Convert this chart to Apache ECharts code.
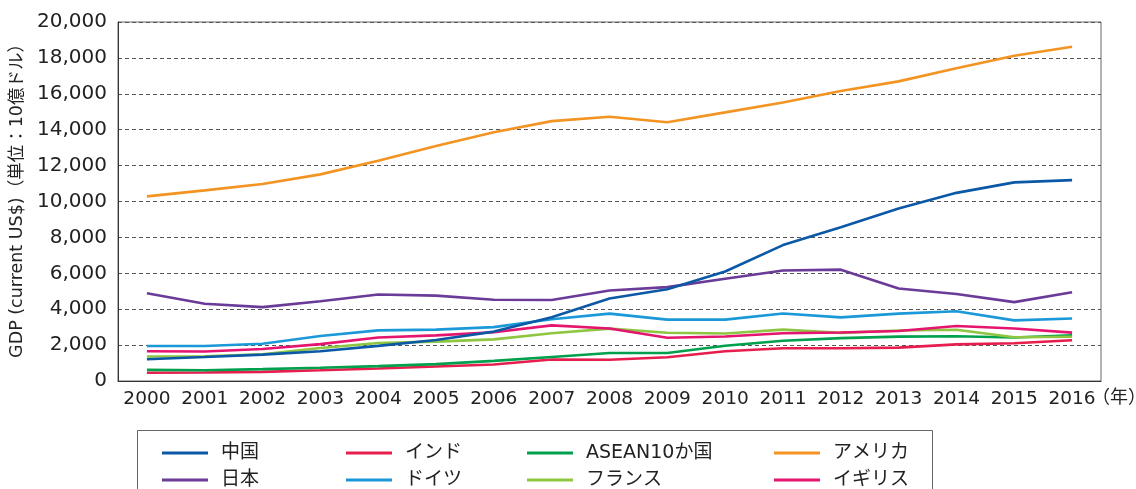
<!DOCTYPE html>
<html><head><meta charset="utf-8">
<script src="https://cdn.jsdelivr.net/npm/echarts@6/dist/echarts.min.js"></script>
<style>html,body{margin:0;padding:0;background:#fff}#c{width:1136px;height:489px}</style>
</head><body><div id="c"></div>
<script>
const years = ['2000','2001','2002','2003','2004','2005','2006','2007','2008','2009','2010','2011','2012','2013','2014','2015','2016'];
const china   = [1211,1339,1471,1660,1955,2286,2752,3552,4598,5110,6101,7573,8561,9607,10482,11065,11191];
const india   = [462,477,507,599,700,809,920,1201,1187,1324,1656,1823,1828,1857,2039,2104,2274];
const asean   = [620,600,660,740,830,940,1120,1340,1560,1560,1960,2240,2390,2470,2490,2420,2550];
const usa     = [10285,10622,10978,11511,12275,13094,13856,14478,14719,14419,14964,15518,16155,16692,17428,18121,18624];
const japan   = [4888,4304,4115,4445,4815,4755,4530,4515,5038,5231,5700,6157,6203,5156,4850,4395,4949];
const germany = [1950,1950,2079,2506,2819,2861,3002,3440,3752,3418,3417,3758,3544,3753,3890,3376,3479];
const france  = [1362,1376,1494,1840,2116,2196,2318,2657,2918,2690,2643,2862,2682,2811,2852,2438,2465];
const uk      = [1658,1640,1784,2054,2421,2544,2714,3100,2923,2410,2475,2659,2704,2786,3064,2928,2694];
const yTicks  = [0,2000,4000,6000,8000,10000,12000,14000,16000,18000,20000];

const names  = ['中国','インド','ASEAN10か国','アメリカ','日本','ドイツ','フランス','イギリス'];
const datas  = [china,india,asean,usa,japan,germany,france,uk];
const colors = ['#0b58a6','#e61e4d','#00a04d','#f39422','#6a3b98','#1a98d8','#8ec641','#e5146f'];

const chart = echarts.init(document.getElementById('c'));
const font = '"DejaVu Sans", "Noto Sans CJK JP", sans-serif';
const legendLefts = [157,341,522,769];
const legendTops = [438,465];
const legends = names.map((n,i) => ({
  orient:'horizontal', left: legendLefts[i%4], top: legendTops[Math.floor(i/4)],
  data:[n], icon:'rect', itemWidth:46, itemHeight:3,
  textStyle:{fontSize:19, color:'#222', lineHeight:20, fontFamily:font, padding:[0,0,0,8]},
  selectedMode:false
}));
chart.setOption({
  animation:false,
  textStyle:{fontFamily:font},
  color: colors,
  grid:{left:118, right:35, top:22, bottom:108, show:true, borderColor:'#666', borderWidth:1, outerBoundsMode:'none', containLabel:false},
  legend: legends,
  graphic:[
    {type:'rect', shape:{x:137.5, y:430.5, width:795, height:80}, style:{fill:'none', stroke:'#666', lineWidth:1}},
    {type:'text', left:1092, top:389, style:{text:'（年）', fontSize:18, fill:'#222', fontFamily:font}}
  ],
  xAxis:{type:'category', data: years, boundaryGap:true,
    axisLine:{lineStyle:{color:'#333'}},
    axisTick:{inside:true, length:7, lineStyle:{color:'#333'}},
    axisLabel:{fontSize:18.5, color:'#222', margin:9, interval:0}},
  yAxis:{type:'value', min:0, max:20000, interval:2000,
    name:'GDP (current US$)（単位：10億ドル）', nameLocation:'middle', nameGap:91, nameRotate:90,
    nameTextStyle:{fontSize:17.5, color:'#222', padding:[0,0,0,10]},
    axisLine:{show:true, lineStyle:{color:'#333'}}, axisTick:{show:false},
    axisLabel:{fontSize:20, color:'#222', margin:11, formatter:v => yTicks.includes(v) ? v.toLocaleString('en-US') : ''},
    splitLine:{lineStyle:{color:'#555', type:[4,3], width:1}}},
  series: names.map((n,i)=>({name:n, type:'line', data:datas[i], showSymbol:false, symbol:'none',
    lineStyle:{width:2.6, color:colors[i]}, itemStyle:{color:colors[i]}, z: i===3||i===0?3:2}))
});
</script></body></html>
